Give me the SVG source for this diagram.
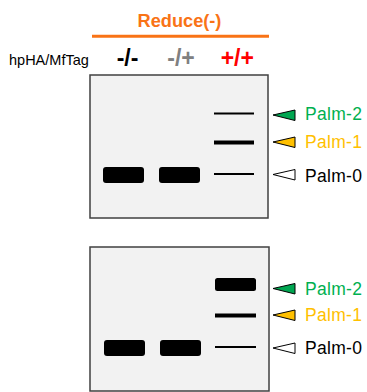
<svg xmlns="http://www.w3.org/2000/svg" width="367" height="392" viewBox="0 0 367 392">
<style>
text{font-family:"Liberation Sans",Arial,sans-serif}
.gel{fill:#f2f2f2;stroke:#404040;stroke-width:1.5}
.band{fill:#000}
.lbl{font-size:17.5px;letter-spacing:0.3px}
.hdr{font-size:23px;font-weight:bold;text-anchor:middle}
.tri{stroke:#000;stroke-width:1;stroke-linejoin:miter}
</style>
<rect width="367" height="392" fill="#fff"/>
<g id="header">
<text x="179.5" y="27.3" fill="#F97316" text-anchor="middle" style="font-size:18.2px;font-weight:bold">Reduce(-)</text>
<line x1="92" y1="36.3" x2="269" y2="36.3" stroke="#F97316" stroke-width="3"/>
<text x="9" y="64.5" style="font-size:14.5px" fill="#000">hpHA/MfTag</text>
<text class="hdr" x="127.5" y="66" fill="#000">-/-</text>
<text class="hdr" x="181" y="66" fill="#808080">-/+</text>
<text class="hdr" x="237.3" y="66" fill="#FF0000">+/+</text>
</g>
<g id="gel1">
<rect class="gel" x="90" y="75" width="178" height="143"/>
<rect class="band" x="103" y="167" width="41" height="16" rx="3"/>
<rect class="band" x="159" y="167" width="41" height="16" rx="3"/>
<rect class="band" x="214" y="112.5" width="40" height="2"/>
<rect class="band" x="214" y="140.5" width="40" height="4"/>
<rect class="band" x="214" y="173" width="40" height="2"/>
</g>
<g id="gel2">
<rect class="gel" x="90" y="247" width="179" height="144"/>
<rect class="band" x="104" y="340" width="41" height="16" rx="3"/>
<rect class="band" x="160" y="340" width="41" height="16" rx="3"/>
<rect class="band" x="215" y="278" width="41" height="13" rx="2.5"/>
<rect class="band" x="215" y="313.5" width="41" height="4"/>
<rect class="band" x="215" y="346" width="41" height="2"/>
</g>
<g id="labels1">
<polygon class="tri" points="273,115 295,110 295,120.5" fill="#00A651"/>
<text class="lbl" x="305" y="119.5" fill="#00B050">Palm-2</text>
<polygon class="tri" points="273,142 295,137 295,147.5" fill="#FFC000"/>
<text class="lbl" x="305" y="148.3" fill="#FFC000">Palm-1</text>
<polygon class="tri" points="273,174.5 295,169.5 295,180" fill="#fff"/>
<text class="lbl" x="305" y="182.3" fill="#000">Palm-0</text>
</g>
<g id="labels2">
<polygon class="tri" points="273,288.5 295,283.5 295,294" fill="#00A651"/>
<text class="lbl" x="305" y="295" fill="#00B050">Palm-2</text>
<polygon class="tri" points="273,315 295,310 295,320.5" fill="#FFC000"/>
<text class="lbl" x="305" y="320.7" fill="#FFC000">Palm-1</text>
<polygon class="tri" points="273,348 295,343 295,353.5" fill="#fff"/>
<text class="lbl" x="305" y="354.3" fill="#000">Palm-0</text>
</g>
</svg>
